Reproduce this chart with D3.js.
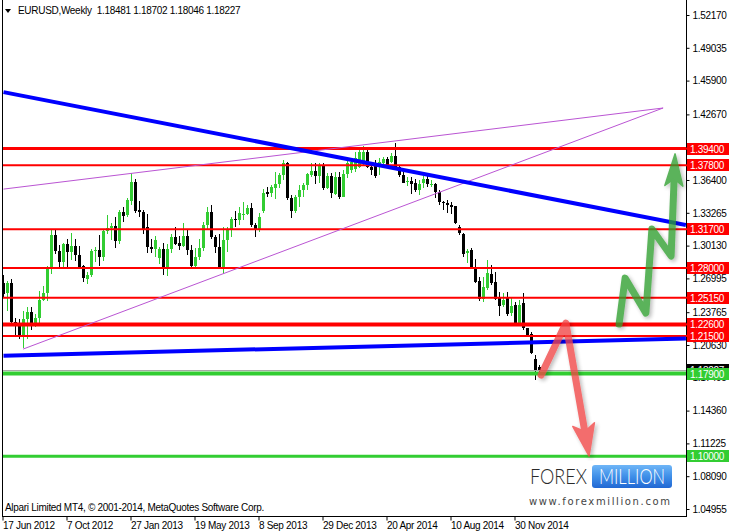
<!DOCTYPE html>
<html><head><meta charset="utf-8">
<script src="https://cdn.jsdelivr.net/npm/d3@7"></script>
<style>html,body{margin:0;padding:0;background:#fff;}svg{display:block;}</style>
</head><body><svg id="c" width="729" height="532"></svg>
<script>
// ---------- data ----------
const symbolTitle = "EURUSD,Weekly";
const headerValues = ["1.18481","1.18702","1.18046","1.18227"];
const copyrightText = "Alpari Limited MT4, \u00A9 2001-2014, MetaQuotes Software Corp.";

const opens = [1.2660,1.2556,1.2655,1.2280,1.2250,1.2145,1.2310,1.2375,1.2260,1.2320,
 1.2495,1.2562,1.2807,1.3113,1.2960,1.2855,1.3027,1.2950,1.3010,1.2925,
 1.2815,1.2700,1.2735,1.2963,1.2975,1.2906,1.3152,1.3180,1.3200,1.3055,
 1.3336,1.3300,1.3448,1.3625,1.3350,1.3330,1.3190,1.3002,1.2980,1.2896,
 1.2982,1.2801,1.2980,1.3097,1.3034,1.3008,1.3104,1.2970,1.2817,1.2900,
 1.2986,1.3209,1.3336,1.3097,1.3000,1.2810,1.3066,1.3168,1.3266,1.3257,
 1.3300,1.3314,1.3374,1.3209,1.3168,1.3336,1.3530,1.3512,1.3560,1.3600,
 1.3685,1.3800,1.3470,1.3346,1.3480,1.3544,1.3591,1.3694,1.3728,1.3680,
 1.3773,1.3560,1.3677,1.3512,1.3671,1.3480,1.3690,1.3740,1.3740,1.3765,
 1.3815,1.3910,1.3767,1.3799,1.3767,1.3799,1.3837,1.3814,1.3869,1.3761,
 1.3687,1.3630,1.3635,1.3610,1.3545,1.3605,1.3645,1.3595,1.3605,1.3525,
 1.3430,1.3420,1.3405,1.3390,1.3187,1.3125,1.2938,1.2970,1.2810,1.2677,
 1.2508,1.2605,1.2741,1.2667,1.2524,1.2444,1.2524,1.2365,1.2444,1.2263,
 1.2460,1.2221,1.2167,1.1925,1.18481];
const highs = [1.2735,1.2670,1.2690,1.2320,1.2310,1.2385,1.2425,1.2430,1.2360,1.2580,
 1.2630,1.2816,1.3165,1.3170,1.3020,1.3040,1.3075,1.3130,1.3075,1.3010,
 1.2825,1.2765,1.2980,1.3000,1.3115,1.3165,1.3305,1.3225,1.3290,1.3355,
 1.3385,1.3472,1.3710,1.3650,1.3440,1.3352,1.3315,1.3075,1.3100,1.3002,
 1.3040,1.3027,1.3120,1.3187,1.3104,1.3228,1.3161,1.3018,1.2986,1.3072,
 1.3241,1.3384,1.3397,1.3113,1.3120,1.3187,1.3190,1.3283,1.3346,1.3384,
 1.3432,1.3400,1.3416,1.3228,1.3321,1.3553,1.3575,1.3591,1.3718,1.3705,
 1.3830,1.3810,1.3496,1.3496,1.3591,1.3613,1.3703,1.3799,1.3799,1.3805,
 1.3805,1.3703,1.3709,1.3719,1.3719,1.3735,1.3847,1.3847,1.3910,1.3942,
 1.3967,1.3942,1.3814,1.3830,1.3850,1.3862,1.3862,1.3894,1.3993,1.3773,
 1.3719,1.3670,1.3670,1.3650,1.3640,1.3677,1.3700,1.3640,1.3613,1.3544,
 1.3440,1.3445,1.3430,1.3395,1.3209,1.3130,1.2976,1.2986,1.2881,1.2715,
 1.2715,1.2874,1.2827,1.2763,1.2571,1.2556,1.2571,1.2524,1.2476,1.2492,
 1.2556,1.2230,1.2189,1.1966,1.18702];
const lows = [1.2511,1.2390,1.2250,1.2147,1.2119,1.2030,1.2120,1.2208,1.2235,1.2272,
 1.2480,1.2486,1.2740,1.2935,1.2805,1.2805,1.2810,1.2880,1.2868,1.2795,
 1.2662,1.2645,1.2715,1.2860,1.2817,1.2870,1.3123,1.3066,1.2990,1.3030,
 1.3241,1.3288,1.3400,1.3327,1.3288,1.3123,1.2940,1.2940,1.2905,1.2836,
 1.2735,1.2721,1.2944,1.3015,1.2970,1.3000,1.2922,1.2810,1.2800,1.2874,
 1.2963,1.3168,1.3072,1.2944,1.2795,1.2741,1.2954,1.3097,1.3187,1.3209,
 1.3257,1.3304,1.3187,1.3097,1.3145,1.3327,1.3480,1.3480,1.3455,1.3560,
 1.3640,1.3448,1.3273,1.3321,1.3384,1.3480,1.3545,1.3671,1.3601,1.3608,
 1.3544,1.3550,1.3464,1.3500,1.3458,1.3475,1.3655,1.3703,1.3719,1.3751,
 1.3783,1.3751,1.3687,1.3655,1.3687,1.3773,1.3767,1.3805,1.3751,1.3671,
 1.3608,1.3585,1.3503,1.3525,1.3500,1.3560,1.3576,1.3570,1.3464,1.3400,
 1.3352,1.3321,1.3314,1.3218,1.3113,1.2900,1.2843,1.2806,1.2657,1.2485,
 1.2476,1.2588,1.2635,1.2492,1.2339,1.2428,1.2339,1.2339,1.2253,1.2253,
 1.2205,1.2150,1.1976,1.1727,1.18046];
const closes = [1.2556,1.2655,1.2280,1.2250,1.2145,1.2310,1.2375,1.2260,1.2320,1.2495,
 1.2562,1.2807,1.3113,1.2960,1.2855,1.3027,1.2950,1.3010,1.2925,1.2815,
 1.2700,1.2735,1.2963,1.2975,1.2906,1.3152,1.3180,1.3200,1.3055,1.3336,
 1.3300,1.3448,1.3625,1.3350,1.3330,1.3170,1.3002,1.2980,1.3066,1.2982,
 1.2801,1.2980,1.3097,1.3034,1.3008,1.3104,1.2970,1.2817,1.2900,1.2986,
 1.3209,1.3336,1.3097,1.3000,1.2810,1.3066,1.3168,1.3266,1.3257,1.3327,
 1.3314,1.3374,1.3209,1.3168,1.3288,1.3512,1.3512,1.3569,1.3600,1.3685,
 1.3800,1.3470,1.3346,1.3480,1.3544,1.3591,1.3694,1.3728,1.3680,1.3773,
 1.3560,1.3677,1.3512,1.3671,1.3480,1.3700,1.3799,1.3814,1.3847,1.3904,
 1.3910,1.3767,1.3735,1.3671,1.3814,1.3837,1.3783,1.3869,1.3767,1.3687,
 1.3613,1.3635,1.3610,1.3545,1.3605,1.3645,1.3595,1.3605,1.3525,1.3430,
 1.3420,1.3405,1.3390,1.3225,1.3125,1.2938,1.2960,1.2810,1.2667,1.2508,
 1.2619,1.2747,1.2652,1.2508,1.2435,1.2492,1.2365,1.2435,1.2263,1.2444,
 1.2221,1.2157,1.1982,1.1806,1.18227];

const dateLabels = ["17 Jun 2012","7 Oct 2012","27 Jan 2013","19 May 2013","8 Sep 2013","29 Dec 2013","20 Apr 2014","10 Aug 2014","30 Nov 2014"];
const dateLabelBars = [0,16,32,48,64,80,96,112,128];
const priceTicks = [1.52170,1.49035,1.45900,1.42670,1.36400,1.33265,1.30130,1.26995,1.23765,1.20630,1.17495,1.14360,1.11225,1.08090,1.04955];

const resistanceLevels = [1.39400,1.37800,1.31700,1.28000,1.25150,1.22600,1.21500];
const supportLevels = [1.17900,1.10000];
const currentPrice = 1.18227;

// trend lines and annotation arrows: [bar index, price]
const blueTrendA = [[0,1.4480],[170.6,1.3210]];
const blueTrendB = [[0,1.1961],[170.6,1.2124]];
const violetUpper = [[0,1.3553],[164.9,1.4328]];
const violetLower = [[4.9,1.2024],[164.9,1.4328]];
const redArrowPath = [[134.4,1.1775],[140.6,1.2272],[146.4,1.1001]];
const greenArrowPath = [[153.9,1.2263],[155.4,1.2702],[160.6,1.2368],[162.1,1.3171],[166.9,1.2913],[167.9,1.3890]];

// ---------- drawing ----------
const svg = d3.select("#c");
const FONT = "'Liberation Sans', Arial, sans-serif";
const plotL = 2.5, plotR = 686.5, plotB = 516.5;

const x = d3.scaleLinear().domain([0, 134]).range([3.5, 539.5]);
const y = d3.scaleLinear().domain([1.04955, 1.52170]).range([509, 15]);
const fmt = d3.format(".5f");

const defs = svg.append("defs");
defs.append("clipPath").attr("id","plot").append("rect").attr("x",3).attr("y",0).attr("width",683).attr("height",516);
const f = defs.append("filter").attr("id","sh").attr("x","-30%").attr("y","-30%").attr("width","160%").attr("height","160%");
f.append("feGaussianBlur").attr("in","SourceAlpha").attr("stdDeviation",2.2).attr("result","b");
f.append("feOffset").attr("in","b").attr("dx",2).attr("dy",2).attr("result","o");
f.append("feComponentTransfer").attr("in","o").attr("result","s").append("feFuncA").attr("type","linear").attr("slope",0.35);
const fm = f.append("feMerge"); fm.append("feMergeNode").attr("in","s"); fm.append("feMergeNode").attr("in","SourceGraphic");
const lg = defs.append("linearGradient").attr("id","mil").attr("x1",0).attr("y1",0).attr("x2",0).attr("y2",1);
lg.append("stop").attr("offset","0%").attr("stop-color","#6fb6f7");
lg.append("stop").attr("offset","50%").attr("stop-color","#3f8fe8");
lg.append("stop").attr("offset","100%").attr("stop-color","#2167d3");

const plot = svg.append("g").attr("clip-path","url(#plot)");

// candles
const bars = d3.range(opens.length).map(i => ({i, o:opens[i], h:highs[i], l:lows[i], c:closes[i]}));
const GREEN = "#32CD32";
plot.append("g").selectAll("line").data(bars).join("line")
  .attr("x1", d => x(d.i)).attr("x2", d => x(d.i))
  .attr("y1", d => Math.round(y(d.h))).attr("y2", d => Math.round(y(d.l)))
  .attr("stroke", d => d.c >= d.o ? GREEN : "#000").attr("stroke-width",1);
plot.append("g").selectAll("rect").data(bars).join("rect")
  .attr("x", d => x(d.i) - 1.5).attr("width", 3)
  .attr("y", d => Math.round(y(Math.max(d.o,d.c))))
  .attr("height", d => Math.max(1, Math.round(Math.abs(y(d.o) - y(d.c)))))
  .attr("fill", d => d.c >= d.o ? GREEN : "#000");

// current price line
plot.append("line").attr("x1",3).attr("x2",686).attr("y1",Math.round(y(currentPrice))+0.5).attr("y2",Math.round(y(currentPrice))+0.5)
  .attr("stroke","#a8a8a8").attr("stroke-width",1);

// horizontal levels
const resWidth = [3,2,2,2,2,4,2];
resistanceLevels.forEach((v,i) => {
  plot.append("line").attr("x1",3).attr("x2",686).attr("y1",y(v)).attr("y2",y(v))
    .attr("stroke","#ff0000").attr("stroke-width",resWidth[i]);
});
const supWidth = [4,3];
supportLevels.forEach((v,i) => {
  plot.append("line").attr("x1",3).attr("x2",686).attr("y1",y(v)).attr("y2",y(v))
    .attr("stroke",GREEN).attr("stroke-width",supWidth[i]);
});

// trend lines
const ln = d3.line().x(d => x(d[0])).y(d => y(d[1]));
plot.append("path").attr("d", ln(violetUpper)).attr("fill","none").attr("stroke","#BA55D3").attr("stroke-width",1);
plot.append("path").attr("d", ln(violetLower)).attr("fill","none").attr("stroke","#BA55D3").attr("stroke-width",1);
plot.append("path").attr("d", ln(blueTrendA)).attr("fill","none").attr("stroke","#0000ff").attr("stroke-width",4);
plot.append("path").attr("d", ln(blueTrendB)).attr("fill","none").attr("stroke","#0000ff").attr("stroke-width",4);

// arrows
function drawArrow(pts, color, headLen, headHalf) {
  const p = pts.map(d => [x(d[0]), y(d[1])]);
  const tip = p[p.length-1], prev = p[p.length-2];
  const dx = tip[0]-prev[0], dy = tip[1]-prev[1], L = Math.hypot(dx,dy);
  const ux = dx/L, uy = dy/L;
  const base = [tip[0]-ux*headLen, tip[1]-uy*headLen];
  const shaft = p.slice(0,-1).concat([[tip[0]-ux*(headLen-4), tip[1]-uy*(headLen-4)]]);
  const g = svg.append("g").attr("filter","url(#sh)").attr("opacity",0.78);
  g.append("path").attr("d", d3.line()(shaft)).attr("fill","none").attr("stroke",color)
    .attr("stroke-width",7).attr("stroke-linejoin","round").attr("stroke-linecap","round");
  g.append("path").attr("d", d3.line()([tip,[base[0]-uy*headHalf, base[1]+ux*headHalf],[tip[0]-ux*headLen*0.78, tip[1]-uy*headLen*0.78],[base[0]+uy*headHalf, base[1]-ux*headHalf]]) + "Z")
    .attr("fill",color).attr("stroke",color).attr("stroke-width",1.5).attr("stroke-linejoin","round");
}
drawArrow(redArrowPath, "#f04545", 32, 11);
drawArrow(greenArrowPath, "#2f9e2f", 32, 9);

// frame
svg.append("line").attr("x1",plotL).attr("x2",plotL).attr("y1",0).attr("y2",plotB).attr("stroke","#000");
svg.append("line").attr("x1",plotR).attr("x2",plotR).attr("y1",0).attr("y2",plotB+0.5).attr("stroke","#000");
svg.append("line").attr("x1",2).attr("x2",plotR).attr("y1",plotB).attr("y2",plotB).attr("stroke","#000");

// right axis
const yAxis = d3.axisRight(y).tickValues(priceTicks).tickSize(3).tickPadding(3).tickFormat(fmt);
const ya = svg.append("g").attr("transform",`translate(${plotR},0)`).call(yAxis);
ya.select(".domain").remove();
ya.selectAll("text").attr("font-family",FONT).attr("font-size",10).attr("letter-spacing",-0.3).attr("fill","#000");

// bottom axis
const xAxis = d3.axisBottom(x).tickValues(dateLabelBars).tickSize(4).tickPadding(1).tickFormat((d,i) => dateLabels[i]);
const xa = svg.append("g").attr("transform",`translate(-1,${plotB})`).call(xAxis);
xa.select(".domain").remove();
xa.selectAll("text").attr("text-anchor","start").attr("x",0).attr("font-family",FONT).attr("font-size",10).attr("letter-spacing",-0.3).attr("fill","#000");

// price labels
function priceLabel(v, bg) {
  const yy = Math.round(y(v));
  svg.append("rect").attr("x",687).attr("y",yy-6).attr("width",42).attr("height",12).attr("fill",bg);
  svg.append("text").attr("x",690).attr("y",yy+4).attr("font-family",FONT).attr("font-size",10)
    .attr("letter-spacing",-0.3).attr("fill","#fff").text(fmt(v));
}
priceLabel(currentPrice, "#000");
resistanceLevels.forEach(v => priceLabel(v, "#ff0000"));
supportLevels.forEach(v => priceLabel(v, GREEN));
resistanceLevels.forEach(v => svg.append("line").attr("x1",686).attr("x2",690).attr("y1",y(v)).attr("y2",y(v)).attr("stroke","#ff0000").attr("stroke-width",2));

// title
svg.append("path").attr("d","M5,9 L11,9 L8,13 Z").attr("fill","#000");
svg.append("text").attr("x",18).attr("y",14).attr("font-family",FONT).attr("font-size",10).attr("letter-spacing",-0.3)
  .attr("fill","#000").attr("xml:space","preserve").text(symbolTitle + "  " + headerValues.join(" "));

// copyright
svg.append("text").attr("x",5).attr("y",511).attr("font-family",FONT).attr("font-size",10).attr("letter-spacing",-0.3)
  .attr("fill","#000").text(copyrightText);

// logo
const logo = svg.append("g");
logo.append("rect").attr("x",526).attr("y",461).attr("width",150).attr("height",48).attr("fill","#fff");
logo.append("text").attr("x",530).attr("y",484).attr("font-family","Lato, 'Open Sans', sans-serif").attr("font-weight",300)
  .attr("font-size",21).attr("fill","#2a2a2a").attr("textLength",57).attr("lengthAdjust","spacingAndGlyphs").text("FOREX");
logo.append("rect").attr("x",592).attr("y",465).attr("width",80).attr("height",23).attr("rx",3).attr("fill","url(#mil)");
logo.append("text").attr("x",599).attr("y",484).attr("font-family","Lato, 'Open Sans', sans-serif").attr("font-weight",300)
  .attr("font-size",21).attr("fill","#fff").attr("textLength",66).attr("lengthAdjust","spacingAndGlyphs").text("MILLION");
logo.append("text").attr("x",529).attr("y",505).attr("font-family","'DejaVu Sans', sans-serif")
  .attr("font-size",10).attr("fill","#444").attr("textLength",141).attr("lengthAdjust","spacing").text("www.forexmillion.com");
</script></body></html>
